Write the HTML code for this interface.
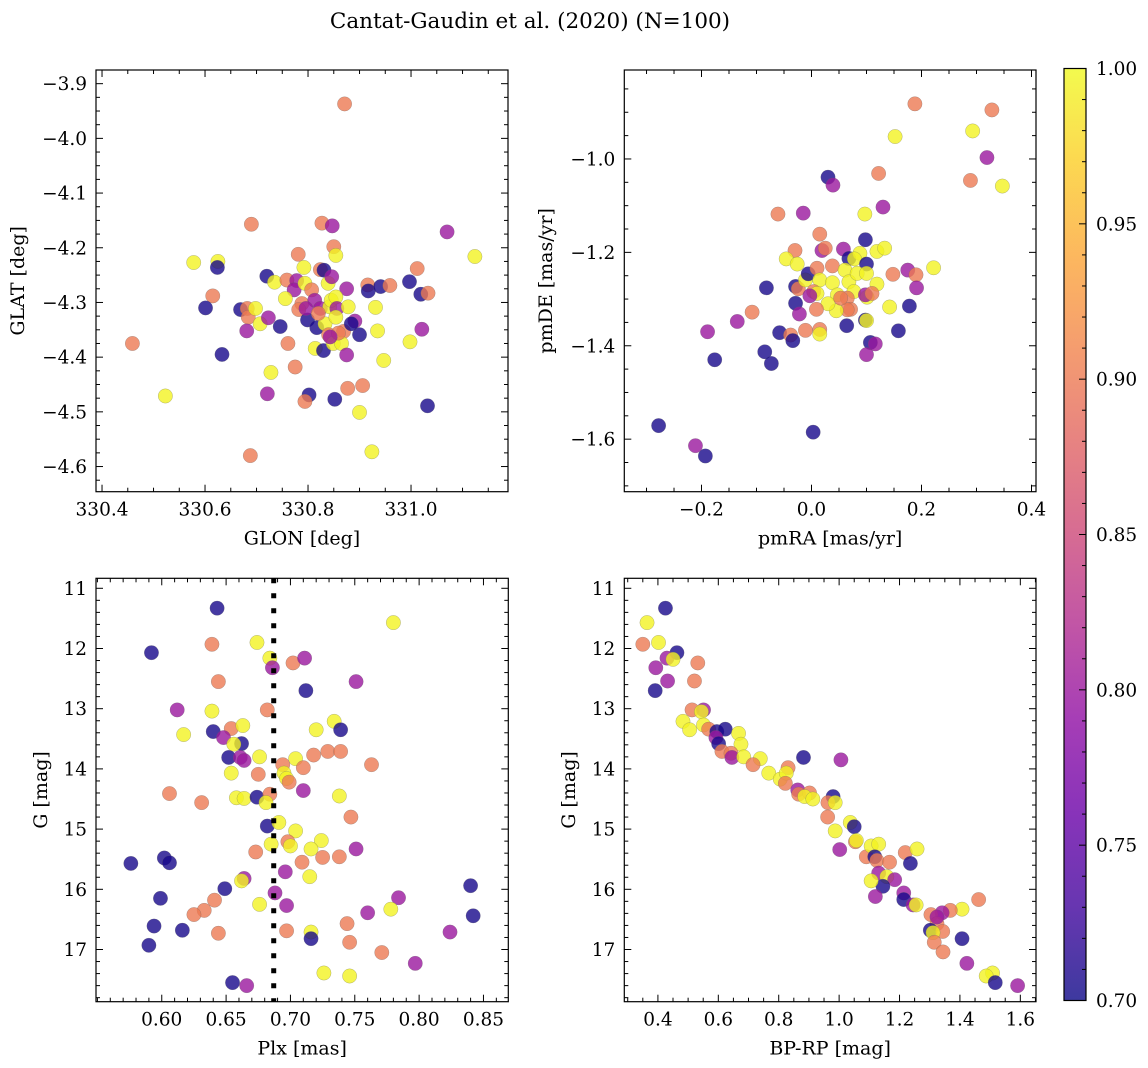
<!DOCTYPE html>
<html><head><meta charset="utf-8"><style>
html,body{margin:0;padding:0;background:#fff;}
svg{display:block;font-family:"DejaVu Serif","Liberation Serif",serif;}
</style></head><body>
<svg id="fig" width="1148" height="1068" viewBox="0 0 1148 1068" xmlns="http://www.w3.org/2000/svg">
<defs>
<linearGradient id="plasma" x1="0" y1="1" x2="0" y2="0">
<stop offset="0" stop-color="#0d0887"/><stop offset="0.1" stop-color="#41049d"/><stop offset="0.2" stop-color="#6a00a8"/><stop offset="0.3" stop-color="#8f0da4"/><stop offset="0.4" stop-color="#b12a90"/><stop offset="0.5" stop-color="#cc4778"/><stop offset="0.6" stop-color="#e16462"/><stop offset="0.7" stop-color="#f2844b"/><stop offset="0.8" stop-color="#fca636"/><stop offset="0.9" stop-color="#fcce25"/><stop offset="1" stop-color="#f0f921"/>
</linearGradient>
</defs>
<text x="530" y="28" font-size="21.5" text-anchor="middle">Cantat-Gaudin et al. (2020) (N=100)</text>
</svg>
<script>
const D=0.705,P=0.80,O=0.90,Y=0.995;
// Panel 1: GLON / GLAT
const glon=[330.871,330.690,330.827,330.847,331.070,331.124,330.578,330.625,330.624,330.781,330.850,330.854,330.792,330.824,330.831,331.012,330.720,330.735,330.759,330.778,330.773,330.794,330.807,330.839,330.846,330.875,330.916,330.917,330.941,330.959,330.997,331.019,331.033,330.615,330.601,330.669,330.682,330.684,330.698,330.756,330.788,330.782,330.813,330.824,330.842,330.845,330.854,330.856,330.878,330.931,330.707,330.723,330.746,330.681,330.799,330.817,330.833,330.840,330.854,330.869,330.891,330.900,330.884,330.935,331.021,330.459,330.761,330.814,330.830,330.849,330.865,330.875,330.998,330.633,330.947,330.728,330.775,330.877,330.906,330.523,330.721,330.802,330.794,330.852,331.032,330.900,330.924,330.688,330.859,330.796,330.820,330.843];
const glat=[-3.937,-4.157,-4.155,-4.160,-4.171,-4.216,-4.227,-4.225,-4.236,-4.212,-4.198,-4.214,-4.236,-4.240,-4.241,-4.238,-4.252,-4.263,-4.259,-4.260,-4.277,-4.265,-4.277,-4.265,-4.253,-4.275,-4.268,-4.279,-4.271,-4.269,-4.262,-4.285,-4.283,-4.288,-4.310,-4.313,-4.311,-4.327,-4.311,-4.293,-4.302,-4.313,-4.296,-4.311,-4.308,-4.296,-4.290,-4.311,-4.308,-4.309,-4.339,-4.328,-4.344,-4.352,-4.332,-4.346,-4.339,-4.359,-4.327,-4.353,-4.334,-4.359,-4.339,-4.352,-4.349,-4.375,-4.375,-4.384,-4.388,-4.375,-4.375,-4.396,-4.372,-4.395,-4.406,-4.428,-4.418,-4.457,-4.452,-4.471,-4.467,-4.469,-4.481,-4.477,-4.489,-4.501,-4.573,-4.580,-4.356,-4.311,-4.320,-4.363];
const prob1=[O,O,O,P,P,Y,Y,Y,D,O,O,Y,Y,O,D,O,D,Y,O,P,P,Y,O,Y,P,P,O,D,D,O,D,D,O,O,D,D,O,O,Y,Y,O,O,P,P,Y,Y,Y,P,Y,Y,Y,P,D,P,D,D,Y,O,Y,O,P,D,D,Y,P,O,O,Y,D,Y,Y,P,Y,D,Y,Y,O,O,O,Y,P,D,O,D,D,Y,Y,O,O,P,O,P];
// Panel 2: pmRA / pmDE
const pmra=[0.188,0.328,0.152,0.293,0.319,0.289,0.347,0.122,0.030,0.039,0.130,-0.061,-0.015,0.097,0.015,0.098,-0.030,0.019,0.025,0.058,-0.046,-0.026,0.068,0.088,0.078,0.119,0.133,0.100,0.222,0.148,0.175,0.190,0.191,0.178,0.142,0.158,-0.082,-0.029,-0.024,-0.011,-0.006,0.010,0.015,0.004,0.010,0.038,0.038,0.047,0.061,0.068,0.077,0.083,0.100,0.119,0.101,0.098,0.110,0.065,0.071,0.065,0.045,0.030,0.009,-0.029,-0.022,-0.108,-0.135,-0.189,-0.058,-0.038,-0.034,-0.011,0.015,0.015,0.064,0.098,0.100,-0.085,-0.073,-0.176,0.107,0.116,0.100,-0.278,0.003,-0.211,-0.193,-0.003,0.053];
const pmde=[-0.882,-0.895,-0.952,-0.940,-0.997,-1.046,-1.058,-1.031,-1.039,-1.056,-1.103,-1.118,-1.116,-1.118,-1.161,-1.173,-1.196,-1.196,-1.191,-1.193,-1.214,-1.225,-1.213,-1.202,-1.214,-1.198,-1.191,-1.225,-1.233,-1.247,-1.238,-1.248,-1.276,-1.315,-1.317,-1.368,-1.276,-1.273,-1.278,-1.259,-1.246,-1.234,-1.259,-1.284,-1.288,-1.229,-1.265,-1.291,-1.238,-1.263,-1.284,-1.245,-1.245,-1.268,-1.296,-1.291,-1.288,-1.298,-1.322,-1.323,-1.325,-1.310,-1.322,-1.309,-1.332,-1.328,-1.348,-1.370,-1.372,-1.377,-1.389,-1.367,-1.365,-1.375,-1.357,-1.345,-1.346,-1.413,-1.438,-1.430,-1.393,-1.396,-1.419,-1.571,-1.585,-1.614,-1.636,-1.293,-1.298];
const prob2=[O,O,Y,Y,P,O,Y,O,D,P,P,O,P,Y,O,D,O,P,O,P,Y,Y,D,Y,Y,Y,Y,D,Y,O,P,O,P,D,Y,D,D,D,O,Y,D,O,Y,O,Y,O,Y,Y,Y,Y,Y,Y,Y,Y,Y,P,O,O,O,O,Y,Y,O,D,P,O,P,P,D,O,D,O,O,Y,D,D,Y,D,D,D,D,P,P,D,D,P,D,P,O];
// Panel 3: Plx / G
const plx=[0.643,0.780,0.639,0.674,0.592,0.684,0.686,0.702,0.711,0.644,0.751,0.712,0.612,0.639,0.682,0.617,0.640,0.654,0.663,0.648,0.662,0.656,0.652,0.661,0.664,0.676,0.654,0.675,0.720,0.734,0.739,0.718,0.729,0.739,0.704,0.694,0.710,0.763,0.695,0.697,0.699,0.710,0.606,0.631,0.658,0.664,0.674,0.684,0.681,0.738,0.747,0.682,0.691,0.704,0.698,0.700,0.685,0.724,0.716,0.725,0.738,0.751,0.673,0.709,0.576,0.602,0.606,0.696,0.715,0.664,0.662,0.649,0.688,0.840,0.784,0.599,0.641,0.676,0.697,0.778,0.760,0.633,0.625,0.842,0.594,0.616,0.644,0.697,0.744,0.824,0.716,0.716,0.590,0.746,0.771,0.797,0.726,0.746,0.655,0.666];
const gmag3=[11.33,11.57,11.93,11.90,12.07,12.16,12.32,12.24,12.16,12.55,12.55,12.70,13.02,13.04,13.02,13.43,13.38,13.33,13.28,13.48,13.58,13.59,13.81,13.81,13.86,13.80,14.07,14.09,13.35,13.21,13.35,13.77,13.71,13.71,13.83,13.93,13.98,13.93,14.07,14.16,14.22,14.36,14.41,14.56,14.48,14.49,14.47,14.42,14.56,14.45,14.80,14.95,14.89,15.03,15.21,15.28,15.25,15.19,15.33,15.47,15.46,15.33,15.38,15.55,15.57,15.48,15.56,15.71,15.79,15.82,15.86,15.99,16.06,15.94,16.14,16.15,16.18,16.25,16.27,16.33,16.39,16.35,16.42,16.44,16.61,16.68,16.73,16.69,16.57,16.71,16.71,16.82,16.93,16.88,17.05,17.23,17.39,17.44,17.55,17.60];
const prob3=[D,Y,O,Y,D,Y,P,O,P,O,P,D,P,Y,O,Y,D,O,Y,P,D,Y,D,P,P,Y,Y,O,Y,Y,D,O,O,O,Y,O,O,O,Y,Y,O,P,O,O,Y,Y,D,O,Y,Y,O,D,Y,Y,O,Y,Y,Y,Y,O,O,P,O,O,D,D,D,P,Y,P,Y,D,P,D,P,D,O,Y,P,Y,P,O,O,D,D,D,O,O,O,P,Y,D,D,O,O,P,Y,Y,D,P];
const plxLine=0.687;
// Panel 4: BP-RP / G
const bprp=[0.425,0.364,0.350,0.402,0.463,0.430,0.450,0.393,0.532,0.521,0.432,0.391,0.513,0.551,0.544,0.483,0.505,0.551,0.568,0.595,0.623,0.592,0.601,0.667,0.675,0.612,0.642,0.645,0.684,0.739,0.715,0.882,1.006,0.767,0.831,0.805,0.825,0.822,0.863,0.866,0.902,0.886,0.913,0.980,0.963,0.987,0.962,1.037,1.050,0.987,1.054,1.057,1.002,1.090,1.106,1.131,1.118,1.125,1.167,1.219,1.258,1.236,1.131,1.158,1.184,1.145,1.106,1.120,1.214,1.214,1.245,1.255,1.462,1.407,1.368,1.341,1.304,1.324,1.302,1.343,1.311,1.315,1.344,1.407,1.423,1.508,1.487,1.517,1.591,1.324];
const gmag4=[11.33,11.57,11.93,11.90,12.07,12.16,12.18,12.32,12.24,12.54,12.54,12.70,13.02,13.02,13.05,13.21,13.35,13.27,13.34,13.38,13.34,13.48,13.58,13.41,13.59,13.71,13.74,13.81,13.80,13.83,13.93,13.81,13.85,14.07,13.98,14.17,14.07,14.24,14.35,14.42,14.40,14.46,14.50,14.46,14.56,14.56,14.80,14.89,14.96,15.03,15.21,15.19,15.34,15.46,15.28,15.25,15.46,15.52,15.55,15.39,15.33,15.57,15.73,15.79,15.84,15.95,15.86,16.12,16.06,16.17,16.26,16.26,16.17,16.33,16.35,16.39,16.42,16.57,16.68,16.70,16.72,16.88,17.04,16.82,17.23,17.39,17.44,17.55,17.60,16.46];
const prob4=[D,Y,O,Y,D,P,Y,P,O,O,P,D,O,P,Y,Y,Y,Y,O,D,D,P,D,Y,Y,O,O,P,Y,Y,O,D,P,Y,O,Y,Y,O,P,O,O,Y,Y,D,O,Y,O,Y,D,Y,O,Y,P,O,Y,Y,D,O,O,O,Y,D,P,Y,P,D,Y,P,P,D,P,Y,O,Y,O,P,O,O,D,O,Y,O,O,D,P,Y,Y,D,P,P];
const cbTicks=[0.70,0.75,0.80,0.85,0.90,0.95,1.00];

const NS='http://www.w3.org/2000/svg';
const svg=document.getElementById('fig');
const TF=18.5, LF=19;
function mk(tag,attrs,parent){const e=document.createElementNS(NS,tag);for(const k in attrs)e.setAttribute(k,attrs[k]);(parent||svg).appendChild(e);return e;}
const stops=[[13,8,135],[65,4,157],[106,0,168],[143,13,164],[177,42,144],[204,71,120],[225,100,98],[242,132,75],[252,166,54],[252,206,37],[240,249,33]];
function plasma(v){let t=Math.max(0,Math.min(1,(v-0.7)/0.3))*10;let i=Math.min(9,Math.floor(t)),f=t-i;const a=stops[i],b=stops[i+1];return 'rgb('+a.map((c,j)=>Math.round(c+(b[j]-c)*f)).join(',')+')';}
function fmt(v,d){return (v<0?'\u2212':'')+Math.abs(v).toFixed(d);}

function panel(o){
  const g=mk('g',{});
  
  
  const sx=v=>o.L+(v-o.x0)/(o.x1-o.x0)*(o.R-o.L);
  const sy=v=>o.T+(v-o.y0)/(o.y1-o.y0)*(o.B-o.T);
  const clip=mk('clipPath',{id:'c'+o.name},g);mk('rect',{x:o.L,y:o.T,width:o.R-o.L,height:o.B-o.T},clip);
  const pts=mk('g',{'clip-path':'url(#c'+o.name+')'},g);
  
  
  for(let i=0;i<o.xs.length;i++){
    const c=mk('circle',{cx:sx(o.xs[i]),cy:sy(o.ys[i]),r:7.2,fill:plasma(o.cs[i]),'fill-opacity':0.8,stroke:'#666','stroke-width':0.4,'stroke-opacity':0.6},pts);
    
    
  }
  if(o.vline!==undefined){
    const l=mk('line',{x1:sx(o.vline),x2:sx(o.vline),y1:o.T,y2:o.B,stroke:'#000','stroke-width':5,'stroke-dasharray':'5 10'},pts);
    
    
  }
  const tk=mk('g',{stroke:'#000','stroke-width':1},g);
  
  
  const eps=1e-9;
  const xmin=Math.min(o.x0,o.x1),xmax=Math.max(o.x0,o.x1),ymin=Math.min(o.y0,o.y1),ymax=Math.max(o.y0,o.y1);
  for(let v=Math.ceil(xmin/o.xminor)*o.xminor;v<=xmax+eps;v+=o.xminor){const x=sx(v);const maj=o.xt.some(t=>Math.abs(t-v)<o.xminor/3);const len=maj?7:4;
    mk('line',{x1:x,x2:x,y1:o.B,y2:o.B-len},tk);mk('line',{x1:x,x2:x,y1:o.T,y2:o.T+len},tk);}
  for(let v=Math.ceil(ymin/o.yminor)*o.yminor;v<=ymax+eps;v+=o.yminor){const y=sy(v);const maj=o.yt.some(t=>Math.abs(t-v)<o.yminor/3);const len=maj?7:4;
    mk('line',{y1:y,y2:y,x1:o.L,x2:o.L+len},tk);mk('line',{y1:y,y2:y,x1:o.R,x2:o.R-len},tk);}
  o.xt.forEach(v=>{const t=mk('text',{x:sx(v),y:o.B+24,'font-size':TF,'text-anchor':'middle'},g);t.textContent=fmt(v,o.xd);
    
    });
  o.yt.forEach(v=>{const t=mk('text',{x:o.L-9,y:sy(v)+6.5,'font-size':TF,'text-anchor':'end'},g);t.textContent=fmt(v,o.yd);
    
    });
  const fr=mk('rect',{x:o.L,y:o.T,width:o.R-o.L,height:o.B-o.T,fill:'none',stroke:'#000','stroke-width':1.2},g);
  
  
  const xl=mk('text',{x:(o.L+o.R)/2,y:o.B+53,'font-size':LF,'text-anchor':'middle'},g);xl.textContent=o.xlabel;
  
  
  const yx=o.ylx,yy=(o.T+o.B)/2;
  const yl=mk('text',{x:yx,y:yy,'font-size':LF,'text-anchor':'middle',transform:'rotate(-90 '+yx+' '+yy+')'},g);yl.textContent=o.ylabel;
  
  
}
panel({name:'panel-glon-glat',L:96,R:508,T:70,B:491.7,x0:330.3883,x1:331.1883,y0:-3.875,y1:-4.646,xs:glon,ys:glat,cs:prob1,xt:[330.4,330.6,330.8,331.0],xd:1,xminor:0.05,yt:[-3.9,-4.0,-4.1,-4.2,-4.3,-4.4,-4.5,-4.6],yd:1,yminor:0.025,xlabel:'GLON [deg]',ylabel:'GLAT [deg]',ylx:24});
panel({name:'panel-pmra-pmde',L:624.3,R:1036,T:70,B:491.7,x0:-0.3404,x1:0.4082,y0:-0.8095,y1:-1.7125,xs:pmra,ys:pmde,cs:prob2,xt:[-0.2,0.0,0.2,0.4],xd:1,xminor:0.05,yt:[-1.0,-1.2,-1.4,-1.6],yd:1,yminor:0.05,xlabel:'pmRA [mas/yr]',ylabel:'pmDE [mas/yr]',ylx:552});
panel({name:'panel-plx-g',L:96,R:508.3,T:578.3,B:1001.7,x0:0.5489,x1:0.8693,y0:10.834,y1:17.867,xs:plx,ys:gmag3,cs:prob3,xt:[0.60,0.65,0.70,0.75,0.80,0.85],xd:2,xminor:0.01,yt:[11,12,13,14,15,16,17],yd:0,yminor:0.2,xlabel:'Plx [mas]',ylabel:'G [mag]',ylx:47,vline:plxLine});
panel({name:'panel-bprp-g',L:624.3,R:1036,T:578.3,B:1001.7,x0:0.2887,x1:1.6519,y0:10.834,y1:17.867,xs:bprp,ys:gmag4,cs:prob4,xt:[0.4,0.6,0.8,1.0,1.2,1.4,1.6],xd:1,xminor:0.05,yt:[11,12,13,14,15,16,17],yd:0,yminor:0.2,xlabel:'BP-RP [mag]',ylabel:'G [mag]',ylx:575});
(function(){
  const L=1064,R=1086,T=68.5,B=1000.5;
  const g=mk('g',{});
  
  
  mk('rect',{x:L,y:T,width:R-L,height:B-T,fill:'url(#plasma)','fill-opacity':0.8},g);
  const sy=v=>B-(v-0.7)/0.3*(B-T);
  for(let k=0;k<=30;k++){const v=0.7+k*0.01;const maj=k%5===0;mk('line',{x1:R,x2:R-(maj?7:4),y1:sy(v),y2:sy(v),stroke:'#000','stroke-width':1},g);}
  cbTicks.forEach(v=>{const t=mk('text',{x:R+10,y:sy(v)+6.5,'font-size':TF},g);t.textContent=v.toFixed(2);
    
    });
  mk('rect',{x:L,y:T,width:R-L,height:B-T,fill:'none',stroke:'#000','stroke-width':1.2},g);
})();
</script>
</body></html>
